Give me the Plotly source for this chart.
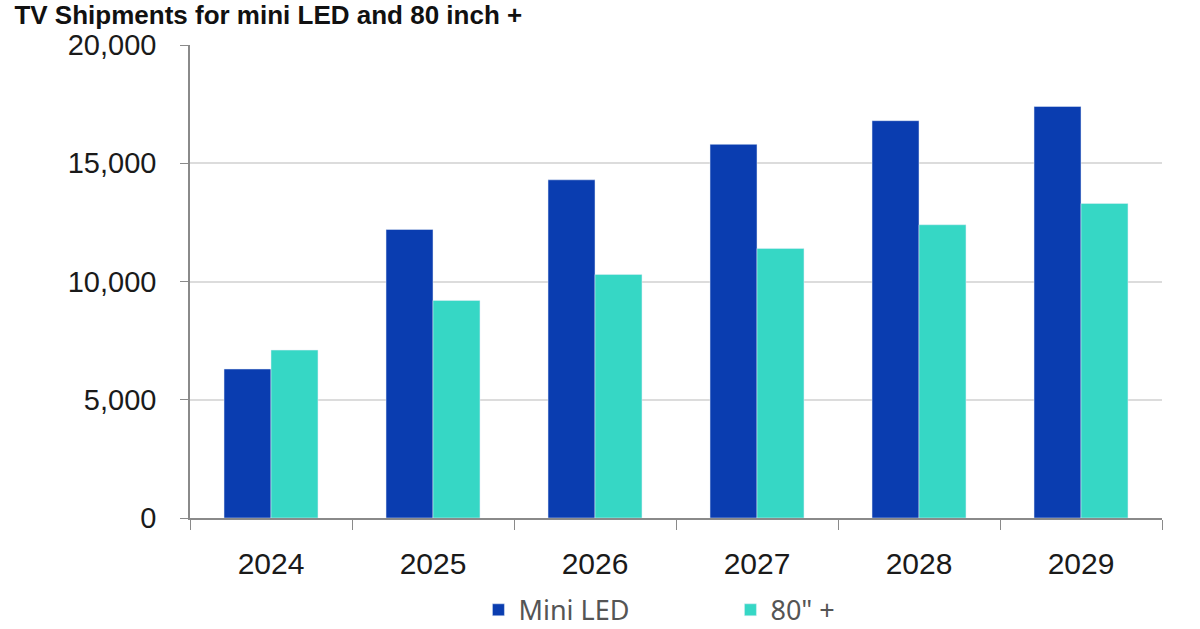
import plotly.graph_objects as go

years = ["2024", "2025", "2026", "2027", "2028", "2029"]
mini_led = [6300, 12200, 14300, 15800, 16800, 17400]
inch80 = [7100, 9200, 10300, 11400, 12400, 13300]
ytick_vals = [0, 5000, 10000, 15000, 20000]
ytick_text = ["0", "5,000", "10,000", "15,000", "20,000"]

fig = go.Figure()
fig.add_trace(go.Bar(x=years, y=mini_led, name="Mini LED", marker_color="#0A3DB0"))
fig.add_trace(go.Bar(x=years, y=inch80, name='80" +', marker_color="#36D7C5"))

fig.update_layout(
    width=1200, height=629,
    margin=dict(l=190, r=38, t=45, b=111, autoexpand=False),
    paper_bgcolor="white", plot_bgcolor="white",
    barmode="group", bargap=0.42, bargroupgap=0,
    title=dict(text="<b>TV Shipments for mini LED and 80 inch +</b>",
               x=0.012, xanchor="left", y=0.976, yanchor="middle",
               font=dict(family="Liberation Sans, Arial", size=26, color="#111111")),
    showlegend=True,
    legend=dict(orientation="h", x=0.556, xanchor="center", y=-0.195, yanchor="middle",
                font=dict(family="Noto Sans", size=27, color="#555555"),
                entrywidth=207, entrywidthmode="pixels", traceorder="normal"),
    font=dict(family="Liberation Sans, Arial", size=30, color="#1a1a1a"),
)
fig.update_yaxes(range=[0, 20000], tickvals=ytick_vals, ticktext=ytick_text,
                 showgrid=True, gridcolor="#dcdcdc", gridwidth=1.5,
                 showline=True, linecolor="#8a8a8a", linewidth=1.5,
                 ticks="outside", ticklen=8, tickcolor="#8a8a8a",
                 ticklabelstandoff=18, zeroline=False,
                 tickfont=dict(size=29, color="#1a1a1a"))
fig.update_xaxes(showline=True, linecolor="#8a8a8a", linewidth=1.5,
                 ticks="outside", tickson="boundaries", ticklen=10, tickcolor="#8a8a8a",
                 ticklabelstandoff=18,
                 tickfont=dict(size=30, color="#1a1a1a"))

fig.write_html("out.html", config={"displayModeBar": False},
               post_script="document.body.style.margin='0';")
